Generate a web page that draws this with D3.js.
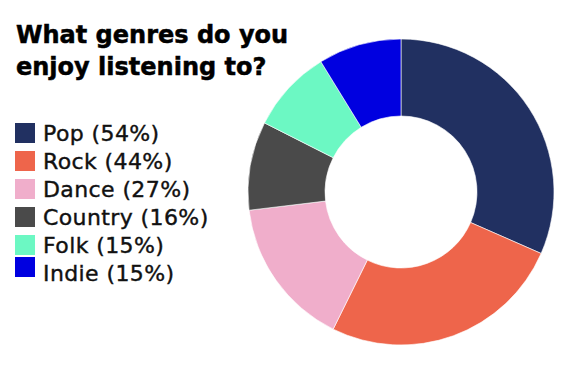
<!DOCTYPE html>
<html>
<head>
<meta charset="utf-8">
<script src="https://cdn.jsdelivr.net/npm/d3@7"></script>
<style>
  body { margin: 0; background: #fff; }
  text { font-family: "DejaVu Sans", sans-serif; }
</style>
</head>
<body>
<div id="chart"></div>
<script>
// survey answers (share of respondents, multiple choice)
const genres = ["Pop", "Rock", "Dance", "Country", "Folk", "Indie"];
const shares = [54, 44, 27, 16, 15, 15];
const colors = ["#213061", "#ee654b", "#f0aecb", "#4a4a4a", "#6cf8c3", "#0000e0"];
const titleLines = ["What genres do you", "enjoy listening to?"];

const width = 576, height = 384;
const svg = d3.select("#chart").append("svg")
    .attr("width", width)
    .attr("height", height);

let rows = genres.map((g, i) => ({ genre: g, value: shares[i], color: colors[i] }));

// title
svg.append("g").selectAll("text")
    .data(titleLines)
    .join("text")
    .attr("x", 16)
    .attr("y", (d, i) => 43 + i * 32)
    .attr("font-size", 24)
    .attr("font-weight", "bold")
    .attr("fill", "#000")
    .attr("stroke", "#000")
    .attr("stroke-width", 0.5)
    .text(d => d);

// donut
let pie = d3.pie().sort(null).value(d => d.value);
let arc = d3.arc().innerRadius(76).outerRadius(153);

svg.append("g")
    .attr("transform", "translate(401,192)")
    .selectAll("path")
    .data(pie(rows))
    .join("path")
    .attr("d", arc)
    .attr("fill", d => d.data.color)
    .attr("stroke", "#fff")
    .attr("stroke-width", 0.6);

// legend
let legend = svg.append("g").attr("transform", "translate(15,123)");
let item = legend.selectAll("g")
    .data(rows)
    .join("g")
    .attr("transform", (d, i) => `translate(0,${i * 28})`);

item.append("rect")
    .attr("width", 20)
    .attr("height", 20)
    .attr("y", (d, i) => i === rows.length - 1 ? -6 : 0) // last swatch sits a bit higher in the original
    .attr("fill", d => d.color);

item.append("text")
    .attr("x", 28)
    .attr("y", 18)
    .attr("font-size", 22)
    .attr("letter-spacing", 0.4)
    .attr("fill", "#111")
    .attr("stroke", "#111")
    .attr("stroke-width", 0.4)
    .text(d => `${d.genre} (${d.value}%)`);
</script>
</body>
</html>
